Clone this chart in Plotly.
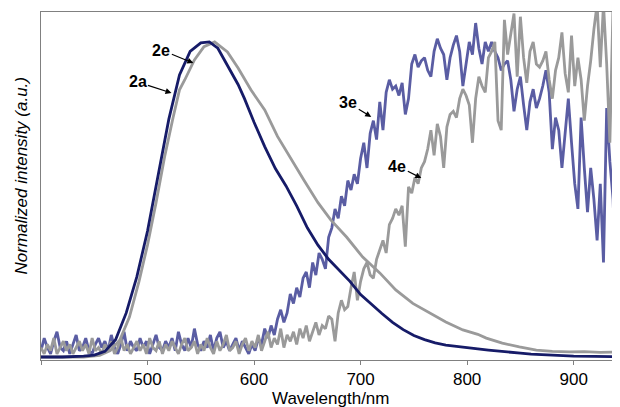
import plotly.graph_objects as go

# ---- data ----
WL_2E = [400, 420, 440, 450, 460, 470, 480, 490, 500, 510, 520, 530, 540, 550, 558, 566, 575, 585, 591,
         600, 610, 620, 630, 640, 650, 660, 670, 680, 690, 700, 710, 720, 730, 740, 750, 760, 770, 780,
         790, 800, 810, 820, 830, 840, 850, 860, 870, 880, 890, 900, 920, 944]
I_2E = [0.0, 0.0, 0.003, 0.006, 0.018, 0.055, 0.14, 0.255, 0.40, 0.575, 0.755, 0.895, 0.97, 0.997, 1.0,
        0.98, 0.925, 0.865, 0.82, 0.745, 0.668, 0.598, 0.543, 0.48, 0.41, 0.355, 0.31, 0.275, 0.24, 0.198,
        0.167, 0.138, 0.11, 0.087, 0.068, 0.055, 0.045, 0.038, 0.034, 0.031, 0.026, 0.022, 0.018, 0.015,
        0.012, 0.009, 0.007, 0.005, 0.004, 0.003, 0.002, 0.001]

WL_2A = [400, 440, 455, 465, 474, 483, 492, 500, 508, 516, 524, 530, 535, 544, 553, 563, 575, 585, 597,
         610, 622, 635, 647, 660, 672, 687, 702, 718, 733, 749, 765, 780, 796, 810, 818, 833, 849, 865,
         880, 896, 910, 925, 944]
I_2A = [0.0, 0.0, 0.005, 0.02, 0.054, 0.127, 0.24, 0.356, 0.49, 0.635, 0.76, 0.848, 0.88, 0.943, 0.985,
        1.0, 0.968, 0.917, 0.848, 0.784, 0.70, 0.625, 0.56, 0.49, 0.435, 0.38, 0.317, 0.267, 0.213, 0.17,
        0.14, 0.111, 0.086, 0.072, 0.06, 0.044, 0.032, 0.022, 0.018, 0.016, 0.017, 0.015, 0.016]

# sampling grid of the noisy spectra: 400, 403, ..., 943 nm (182 points)
WL_NOISY = list(range(400, 944, 3))
I_3E = [0.02, 0.06, 0.03, 0.01, 0.05, 0.08, 0.03, 0.02, 0.05, 0.01,
        0.04, 0.07, 0.02, 0.03, 0.06, 0.02, 0.01, 0.04, 0.06, 0.03,
        0.05, 0.02, 0.07, 0.03, 0.01, 0.04, 0.08, 0.02, 0.05, 0.03,
        0.02, 0.06, 0.03, 0.05, 0.01, 0.04, 0.07, 0.03, 0.02, 0.05,
        0.03, 0.06, 0.02, 0.08, 0.04, 0.02, 0.06, 0.03, 0.09, 0.04,
        0.02, 0.05, 0.03, 0.07, 0.02, 0.06, 0.08, 0.03, 0.05, 0.02,
        0.04, 0.06, 0.02, 0.05, 0.03, 0.01, 0.04, 0.02, 0.06, 0.04,
        0.09, 0.06, 0.10, 0.07, 0.12, 0.15, 0.11, 0.14, 0.20, 0.17,
        0.22, 0.19, 0.25, 0.27, 0.22, 0.30, 0.26, 0.33, 0.31, 0.28,
        0.38, 0.41, 0.47, 0.44, 0.51, 0.48, 0.56, 0.53, 0.58, 0.55,
        0.63, 0.68, 0.60, 0.71, 0.75, 0.69, 0.81, 0.72, 0.84, 0.88,
        0.85, 0.86, 0.83, 0.87, 0.77, 0.82, 0.93, 0.96, 0.92, 0.94,
        0.95, 0.91, 0.89, 0.97, 1.01, 0.98, 0.96, 0.88, 0.95, 0.99,
        1.02, 0.97, 0.86, 0.93, 1.00, 0.96, 1.06, 0.98, 0.93, 1.00,
        0.97, 1.00, 0.97, 0.95, 0.91, 0.93, 0.94, 0.88, 0.78, 0.85,
        0.89, 0.80, 0.72, 0.81, 0.85, 0.79, 0.82, 0.86, 0.91, 0.84,
        0.66, 0.76, 0.72, 0.60, 0.70, 0.82, 0.68, 0.55, 0.47, 0.76,
        0.60, 0.46, 0.60, 0.50, 0.37, 0.55, 0.30, 0.79, 0.62, 0.50,
        0.20, 0.45]
I_4E = [0.03, 0.01, 0.04, 0.02, 0.06, 0.01, 0.03, 0.05, 0.02, 0.04,
        0.01, 0.03, 0.05, 0.02, 0.04, 0.01, 0.06, 0.02, 0.03, 0.01,
        0.04, 0.02, 0.05, 0.01, 0.03, 0.06, 0.02, 0.04, 0.01, 0.03,
        0.05, 0.02, 0.04, 0.01, 0.06, 0.03, 0.02, 0.05, 0.01, 0.04,
        0.02, 0.05, 0.03, 0.01, 0.04, 0.06, 0.02, 0.03, 0.05, 0.01,
        0.04, 0.02, 0.06, 0.03, 0.01, 0.05, 0.02, 0.04, 0.07, 0.02,
        0.03, 0.05, 0.01, 0.04, 0.06, 0.02, 0.05, 0.03, 0.07, 0.02,
        0.05, 0.08, 0.03, 0.06, 0.04, 0.09, 0.03, 0.07, 0.05, 0.08,
        0.04, 0.09, 0.06, 0.10, 0.05, 0.08, 0.11, 0.07, 0.10, 0.09,
        0.13, 0.12, 0.05, 0.14, 0.18, 0.15, 0.16, 0.22, 0.27, 0.18,
        0.24, 0.28, 0.30, 0.26, 0.25, 0.31, 0.34, 0.37, 0.33, 0.42,
        0.44, 0.47, 0.45, 0.48, 0.35, 0.54, 0.52, 0.57, 0.55, 0.60,
        0.62, 0.66, 0.72, 0.64, 0.74, 0.70, 0.60, 0.73, 0.77, 0.78,
        0.76, 0.82, 0.85, 0.83, 0.80, 0.68, 0.82, 0.89, 0.86, 0.84,
        0.95, 0.97, 1.00, 0.75, 0.72, 1.07, 0.96, 1.02, 1.09, 0.89,
        1.08, 0.95, 0.87, 0.97, 1.00, 0.93, 0.92, 0.94, 0.97, 0.88,
        0.82, 0.91, 0.95, 1.03, 0.90, 0.84, 1.02, 0.86, 0.95, 0.88,
        0.75, 0.86, 0.94, 1.04, 1.12, 0.92, 1.12, 0.93, 0.68, 1.12,
        0.95, 0.88]

X_TICKS = [400, 500, 600, 700, 800, 900]
X_TICK_TEXT = ["", "500", "600", "700", "800", "900"]

NAVY = "#161b68"
SLATE = "#5a5da3"
GRAY = "#9a9a9a"
FONT = "Arial, 'Liberation Sans', sans-serif"

fig = go.Figure()
fig.add_trace(go.Scatter(x=WL_NOISY, y=I_3E, mode="lines", line=dict(color=SLATE, width=2.8), name="3e"))
fig.add_trace(go.Scatter(x=WL_NOISY, y=I_4E, mode="lines", line=dict(color=GRAY, width=2.8), name="4e"))
fig.add_trace(go.Scatter(x=WL_2A, y=I_2A, mode="lines", line=dict(color=GRAY, width=2.8), name="2a"))
fig.add_trace(go.Scatter(x=WL_2E, y=I_2E, mode="lines", line=dict(color=NAVY, width=2.8), name="2e"))

ann_font = dict(family=FONT, size=16, color="black")
arrow = dict(showarrow=True, arrowhead=2, arrowsize=1, arrowwidth=1.2, arrowcolor="black")
fig.add_annotation(x=543, y=0.933, text="<b>2e</b>", ax=-32, ay=-13, font=ann_font, **arrow)
fig.add_annotation(x=522.5, y=0.838, text="<b>2a</b>", ax=-34, ay=-11, font=ann_font, **arrow)
fig.add_annotation(x=710, y=0.762, text="<b>3e</b>", ax=-23, ay=-14, font=ann_font, **arrow)
fig.add_annotation(x=757, y=0.568, text="<b>4e</b>", ax=-24, ay=-12, font=ann_font, **arrow)

# axis titles (placed as in the reference)
fig.add_annotation(xref="paper", yref="paper", x=-0.033, y=0.53, text="<i>Normalized intensity (a.u.)</i>",
                   textangle=-90, showarrow=False, xanchor="center", yanchor="middle",
                   font=dict(family=FONT, size=17, color="black"))
fig.add_annotation(xref="paper", yref="paper", x=0.5, y=-0.112, text="Wavelength/nm",
                   showarrow=False, xanchor="center", yanchor="middle",
                   font=dict(family=FONT, size=17, color="black"))

# the page body has an 8 px margin, so the figure is sized to fit the window after that offset
fig.update_layout(
    width=612, height=399,
    margin=dict(l=33, r=0, t=4, b=47),
    paper_bgcolor="white", plot_bgcolor="white",
    showlegend=False,
    font=dict(family=FONT, color="black"),
    xaxis=dict(
        range=[400, 943.5], tickvals=X_TICKS, ticktext=X_TICK_TEXT,
        ticks="outside", ticklen=4, tickcolor="#808080", tickwidth=1,
        ticklabelstandoff=0,
        showline=True, linecolor="#808080", linewidth=1, mirror=True,
        showgrid=False, zeroline=False, automargin=False,
        tickfont=dict(size=17, family=FONT),
    ),
    yaxis=dict(
        range=[-0.0095, 1.095], showticklabels=False, ticks="",
        showline=True, linecolor="#808080", linewidth=1,
        showgrid=False, zeroline=False, automargin=False,
    ),
)

fig.write_html("out.html")
